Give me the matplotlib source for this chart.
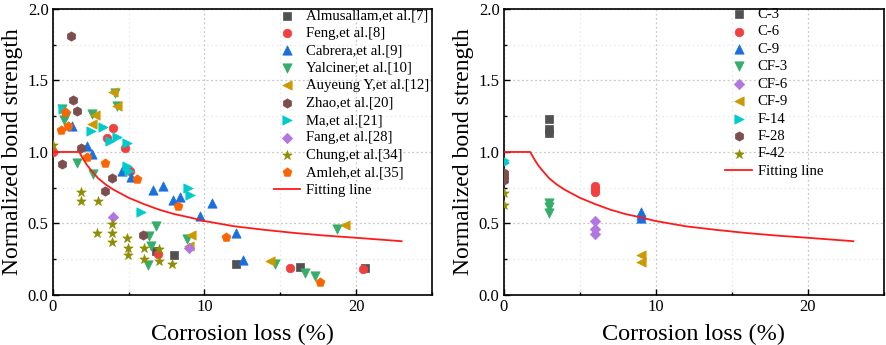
import matplotlib
matplotlib.use("Agg")
import matplotlib.pyplot as plt
from matplotlib.ticker import MultipleLocator

plt.rcParams['font.family'] = ['Liberation Serif', 'DejaVu Serif']

# ---------------- data: left panel ----------------
alm_x = [6.84, 8.0, 12.08, 16.27, 20.59]
alm_y = [0.308, 0.278, 0.217, 0.198, 0.191]
feng_x = [0.0, 3.99, 3.6, 4.76, 5.09, 6.97, 15.66, 20.44]
feng_y = [1.0, 1.17, 1.10, 1.03, 0.868, 0.287, 0.191, 0.18]
cab_x = [1.3, 2.28, 2.62, 4.6, 5.13, 6.62, 7.28, 7.92, 8.4, 9.73, 10.5, 12.1, 12.56]
cab_y = [1.185, 1.045, 0.987, 0.87, 0.824, 0.735, 0.765, 0.665, 0.684, 0.554, 0.642, 0.433, 0.245]
yal_x = [0.62, 0.74, 0.85, 1.63, 2.63, 2.6, 4.1, 4.25, 6.84, 6.36, 6.51, 6.25, 8.83, 14.63, 16.62, 17.28, 18.73]
yal_y = [1.30, 1.225, 1.25, 0.92, 0.847, 1.265, 1.412, 1.323, 0.485, 0.415, 0.343, 0.213, 0.39, 0.215, 0.156, 0.133, 0.464]
auy_x = [3.99, 4.21, 2.78, 2.57, 9.14, 8.97, 14.34, 19.28]
auy_y = [1.417, 1.323, 1.26, 1.197, 0.418, 0.345, 0.24, 0.488]
zhao_x = [1.18, 1.37, 1.63, 1.86, 0.64, 3.9, 3.43, 5.92]
zhao_y = [1.809, 1.363, 1.286, 1.027, 0.917, 0.817, 0.728, 0.418]
ma_x = [0.66, 2.55, 3.33, 3.77, 4.21, 4.91, 4.91, 5.04, 5.81, 8.93, 9.08]
ma_y = [1.30, 1.15, 1.172, 1.08, 1.108, 1.066, 0.903, 0.87, 0.579, 0.751, 0.70]
fang_x = [3.99, 8.97]
fang_y = [0.548, 0.327]
chung_x = [0.0, 1.86, 1.86, 3.0, 3.92, 2.89, 3.92, 3.92, 4.91, 4.98, 4.98, 6.0, 6.0, 6.99, 6.99, 7.89]
chung_y = [1.048, 0.719, 0.656, 0.656, 0.499, 0.436, 0.436, 0.373, 0.399, 0.327, 0.28, 0.327, 0.25, 0.32, 0.238, 0.217]
aml_x = [0.52, 0.81, 1.03, 2.24, 3.44, 5.53, 8.27, 11.45, 17.61]
aml_y = [1.155, 1.279, 1.185, 0.968, 0.922, 0.81, 0.623, 0.404, 0.093]

# ---------------- data: right panel ----------------
c3_x = [3.0, 3.0, 3.0]
c3_y = [1.23, 1.16, 1.13]
c6_x = [6.0, 6.0, 6.0]
c6_y = [0.765, 0.74, 0.718]
c9_x = [9.0, 9.0, 9.0]
c9_y = [0.582, 0.56, 0.536]
cf3_x = [3.0, 3.0, 3.0]
cf3_y = [0.646, 0.613, 0.576]
cf6_x = [6.0, 6.0, 6.0]
cf6_y = [0.516, 0.461, 0.426]
cf9_x = [9.0, 9.0]
cf9_y = [0.282, 0.231]
f14_x = [0.0, 0.0, 0.0]
f14_y = [0.944, 0.93, 0.921]
f28_x = [0.0, 0.0, 0.0]
f28_y = [0.855, 0.83, 0.804]
f42_x = [0.0, 0.0]
f42_y = [0.715, 0.632]

# fitting line
fit_x = [0, 1.75, 1.85, 2.0, 2.25, 2.5, 3.0, 3.5, 4.0, 5.0, 6.0, 7.0, 8.0, 9.0,
         10.0, 12.0, 14.0, 16.0, 18.0, 20.0, 23.0]
fit_y = [1.0, 1.0, 0.98, 0.952, 0.91, 0.876, 0.815, 0.772, 0.737, 0.68, 0.636, 0.597,
         0.566, 0.543, 0.517, 0.48, 0.455, 0.433, 0.415, 0.4, 0.376]

left_series = [
    ("Almusallam,et al.[7]", alm_x, alm_y, 's', '#515151', 30),
    ("Feng,et al.[8]", feng_x, feng_y, 'o', '#F14040', 38),
    ("Cabrera,et al.[9]", cab_x, cab_y, '^', '#1A6FDF', 45),
    ("Yalciner,et al.[10]", yal_x, yal_y, 'v', '#37AD6B', 45),
    ("Auyeung Y,et al.[12]", auy_x, auy_y, '<', '#CC9900', 45),
    ("Zhao,et al.[20]", zhao_x, zhao_y, 'h', '#7D4E4E', 45),
    ("Ma,et al.[21]", ma_x, ma_y, '>', '#00CBCC', 45),
    ("Fang,et al.[28]", fang_x, fang_y, 'D', '#B177DE', 28),
    ("Chung,et al.[34]", chung_x, chung_y, '*', '#8E8E00', 50),
    ("Amleh,et al.[35]", aml_x, aml_y, 'p', '#FB6501', 45),
]
right_series = [
    ("C-3", c3_x, c3_y, 's', '#515151', 30),
    ("C-6", c6_x, c6_y, 'o', '#F14040', 38),
    ("C-9", c9_x, c9_y, '^', '#1A6FDF', 45),
    ("CF-3", cf3_x, cf3_y, 'v', '#37AD6B', 45),
    ("CF-6", cf6_x, cf6_y, 'D', '#B177DE', 28),
    ("CF-9", cf9_x, cf9_y, '<', '#CC9900', 45),
    ("F-14", f14_x, f14_y, '>', '#00CBCC', 45),
    ("F-28", f28_x, f28_y, 'h', '#7D4E4E', 45),
    ("F-42", f42_x, f42_y, '*', '#8E8E00', 50),
]

fig = plt.figure(figsize=(8.86, 3.45), dpi=100)
ax1 = fig.add_axes([0.0595, 0.145, 0.428, 0.829])
ax2 = fig.add_axes([0.5685, 0.145, 0.429, 0.829])


def style(ax):
    ax.set_xlim(0, 25)
    ax.set_ylim(0, 2.0)
    ax.xaxis.set_major_locator(MultipleLocator(10))
    ax.xaxis.set_minor_locator(MultipleLocator(5))
    ax.yaxis.set_major_locator(MultipleLocator(0.5))
    ax.yaxis.set_minor_locator(MultipleLocator(0.25))
    ax.yaxis.set_major_formatter(matplotlib.ticker.FormatStrFormatter('%.1f'))
    ax.tick_params(which='both', direction='in', top=False, right=False,
                   labelsize=12, width=1.0, pad=3)
    ax.tick_params(which='major', length=4)
    ax.tick_params(which='minor', length=2.5)
    ax.grid(which='major', color='#c8c8c8', linestyle=(0, (1.5, 2)), linewidth=0.9)
    ax.grid(which='minor', color='#ececec', linestyle=(0, (1.5, 2)), linewidth=0.9)
    ax.set_axisbelow(True)
    for s in ax.spines.values():
        s.set_linewidth(1.2)
    ax.set_xlabel("Corrosion loss (%)", fontsize=17.5, labelpad=6)
    ax.set_ylabel("Normalized bond strength", fontsize=17, labelpad=3)


for ax, series, anchor in ((ax1, left_series, (0.567, 1.02)), (ax2, right_series, (0.568, 1.025))):
    style(ax)
    for lab, xs, ys, m, c, s in series:
        ax.scatter(xs, ys, marker=m, s=s, color=c, edgecolors=c, linewidths=0.5,
                   label=lab, zorder=3)
    ax.plot(fit_x, fit_y, color='#ff1a1a', linewidth=1.3, label='Fitting line', zorder=4)
    ax.legend(loc='upper left', bbox_to_anchor=anchor, frameon=False, fontsize=10.6,
              handlelength=1.8, handletextpad=0.4, labelspacing=0.28,
              borderaxespad=0.2, borderpad=0.2, scatterpoints=1)

fig.savefig("out.png", dpi=100)
